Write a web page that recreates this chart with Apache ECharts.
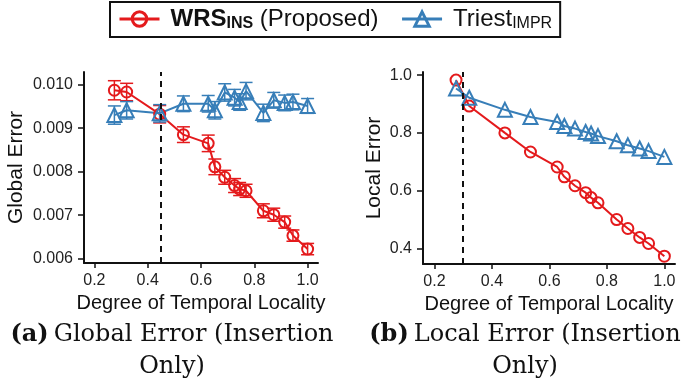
<!DOCTYPE html>
<html>
<head>
<meta charset="utf-8">
<script src="https://cdn.jsdelivr.net/npm/echarts@6/dist/echarts.min.js"></script>
<style>html,body{margin:0;padding:0;background:#fff}#c{width:685px;height:385px}</style>
</head>
<body>
<div id="c"></div>
<script>
// ---- data ----
const locality = [0.275, 0.321, 0.445, 0.534, 0.627, 0.652, 0.689, 0.726, 0.745, 0.769, 0.834, 0.873, 0.914, 0.945, 1.0];
const globalWRS = [0.00987, 0.00983, 0.00932, 0.00885, 0.00865, 0.00811, 0.00787, 0.00768, 0.0076, 0.00756, 0.0071, 0.00701, 0.00684, 0.00653, 0.00622];
const globalWRSErr = [0.00022, 0.0002, 0.0002, 0.00018, 0.00019, 0.00018, 0.00016, 0.00016, 0.00015, 0.00015, 0.00016, 0.00015, 0.00014, 0.00013, 0.00013];
const globalTriest = [0.0093, 0.00941, 0.00934, 0.00956, 0.00956, 0.00941, 0.00982, 0.0097, 0.0096, 0.00985, 0.00935, 0.00964, 0.00958, 0.0096, 0.00951];
const globalTriestErr = [0.00021, 0.0002, 0.0002, 0.00018, 0.00019, 0.0002, 0.0002, 0.00019, 0.00019, 0.0002, 0.0002, 0.00018, 0.00018, 0.00018, 0.00017];
const localWRS = [0.983, 0.893, 0.8, 0.734, 0.682, 0.648, 0.617, 0.593, 0.576, 0.558, 0.5, 0.469, 0.438, 0.417, 0.373];
const localTriest = [0.954, 0.922, 0.88, 0.855, 0.838, 0.824, 0.815, 0.803, 0.798, 0.789, 0.771, 0.757, 0.746, 0.737, 0.717];
const thresholdGlobal = 0.445;
const thresholdLocal = 0.3;
const xTicks = [0.2, 0.4, 0.6, 0.8, 1.0];
const globalTicks = [0.006, 0.007, 0.008, 0.009, 0.010];
const localTicks = [0.4, 0.6, 0.8, 1.0];
const nameWRS = 'WRS_INS (Proposed)';
const nameTriest = 'Triest_IMPR';

// ---- style ----
const RED = '#E41A1C', BLUE = '#377EB8';
const FONT = 'Liberation Sans';
const SERIF = 'DejaVu Serif';

const chart = echarts.init(document.getElementById('c'), null, {renderer: 'canvas'});

function xAxisCfg(gi, min, max) {
  return {
    type: 'value', gridIndex: gi, min: min, max: max,
    name: 'Degree of Temporal Locality', nameLocation: 'middle', nameGap: 30,
    nameTextStyle: {fontFamily: FONT, fontSize: 20, color: '#111'},
    axisLine: {show: true, lineStyle: {color: '#111', width: 2}},
    axisTick: {show: true, length: 5, lineStyle: {color: '#111', width: 1.5}, customValues: xTicks},
    axisLabel: {fontFamily: FONT, fontSize: 16, color: '#222', margin: 10, customValues: xTicks,
      formatter: v => v.toFixed(1)},
    splitLine: {show: false}
  };
}
function yAxisCfg(gi, min, max, ticks, digits, name, gap) {
  return {
    type: 'value', gridIndex: gi, min: min, max: max,
    name: name, nameLocation: 'middle', nameGap: gap, nameRotate: 90,
    nameTextStyle: {fontFamily: FONT, fontSize: 21, color: '#111'},
    axisLine: {show: true, lineStyle: {color: '#111', width: 2}},
    axisTick: {show: true, length: 6, lineStyle: {color: '#111', width: 1.5}, customValues: ticks},
    axisLabel: {fontFamily: FONT, fontSize: 16, color: '#222', margin: 11, customValues: ticks,
      formatter: v => v.toFixed(digits)},
    splitLine: {show: false}
  };
}

function lineSeries(name, xi, yi, values, color, symbol, size) {
  return {
    name: name, type: 'line', xAxisIndex: xi, yAxisIndex: yi,
    data: locality.map((x, i) => [x, values[i]]),
    symbol: symbol, symbolSize: size,
    lineStyle: {color: color, width: 2},
    itemStyle: {color: 'rgba(255,255,255,0)', borderColor: color, borderWidth: 2},
    emphasis: {disabled: true},
    animation: false, z: 3
  };
}

function errSeries(name, values, errs, color) {
  return {
    name: name + ' error', type: 'custom', xAxisIndex: 0, yAxisIndex: 0,
    data: locality.map((x, i) => [x, values[i], errs[i]]),
    renderItem: function (params, api) {
      const x = api.value(0), y = api.value(1), e = api.value(2);
      const hi = api.coord([x, y + e]);
      const lo = api.coord([x, y - e]);
      const hw = 6.5;
      const st = {stroke: color, lineWidth: 1.5};
      return {
        type: 'group', children: [
          {type: 'line', shape: {x1: hi[0], y1: hi[1], x2: lo[0], y2: lo[1]}, style: st},
          {type: 'line', shape: {x1: hi[0] - hw, y1: hi[1], x2: hi[0] + hw, y2: hi[1]}, style: st},
          {type: 'line', shape: {x1: lo[0] - hw, y1: lo[1], x2: lo[0] + hw, y2: lo[1]}, style: st}
        ]
      };
    },
    animation: false, z: 2, silent: true
  };
}

const dashed = (v) => ({
  silent: true, symbol: 'none', animation: false,
  label: {show: false},
  lineStyle: {color: '#111', type: [6, 5], width: 2},
  data: [{xAxis: v}]
});

const s0 = lineSeries(nameWRS, 0, 0, globalWRS, RED, 'circle', 11);
s0.markLine = dashed(thresholdGlobal);
const s2 = lineSeries(nameWRS, 1, 1, localWRS, RED, 'circle', 11);
s2.markLine = dashed(thresholdLocal);

const capRich = {
  b: {fontFamily: SERIF, fontSize: 24, fontWeight: 'bold', color: '#111', lineHeight: 32},
  n: {fontFamily: SERIF, fontSize: 24, fontWeight: 'normal', color: '#111', lineHeight: 32}
};

const option = {
  backgroundColor: '#fff',
  animation: false,
  grid: [
    {left: 84, top: 72, width: 234, height: 191},
    {left: 423, top: 72, width: 252, height: 192}
  ],
  xAxis: [xAxisCfg(0, 0.161, 1.039), xAxisCfg(1, 0.16, 1.037)],
  yAxis: [
    yAxisCfg(0, 0.0059, 0.01029, globalTicks, 3, 'Global Error', 57),
    yAxisCfg(1, 0.346, 1.011, localTicks, 1, 'Local Error', 38)
  ],
  legend: {
    data: [nameWRS, nameTriest],
    left: 110, top: 2,
    orient: 'horizontal',
    borderColor: '#111', borderWidth: 2, borderRadius: 0,
    padding: [5, 8, 5, 8],
    itemWidth: 40, itemHeight: 18, itemGap: 22,
    selectedMode: false,
    lineStyle: {width: 3},
    itemStyle: {borderWidth: 3},
    formatter: function (n) {
      return n === nameWRS ? '{g| }{b|WRS}{bs|INS}{n| (Proposed)}' : '{g| }{n|Triest}{s|IMPR}';
    },
    textStyle: {
      fontFamily: FONT, fontSize: 24, color: '#111',
      rich: {
        g: {width: 6, fontSize: 10},
        b: {fontFamily: FONT, fontSize: 24, fontWeight: 'bold', color: '#111', lineHeight: 26},
        bs: {fontFamily: FONT, fontSize: 16, fontWeight: 'bold', color: '#111', lineHeight: 20, verticalAlign: 'bottom'},
        n: {fontFamily: FONT, fontSize: 24, color: '#111', lineHeight: 26},
        s: {fontFamily: FONT, fontSize: 16, color: '#111', lineHeight: 20, verticalAlign: 'bottom'}
      }
    }
  },
  title: [
    {
      text: '{b|(a)} {n|Global Error (Insertion}\n{n|Only)}',
      left: 167, top: 314, textAlign: 'center',
      textStyle: {fontWeight: 'normal', rich: capRich}
    },
    {
      text: '{b|(b)} {n|Local Error (Insertion}\n{n|Only)}',
      left: 520, top: 314, textAlign: 'center',
      textStyle: {fontWeight: 'normal', rich: capRich}
    }
  ],
  series: [
    s0,
    lineSeries(nameTriest, 0, 0, globalTriest, BLUE, 'triangle', 14),
    s2,
    lineSeries(nameTriest, 1, 1, localTriest, BLUE, 'triangle', 14),
    errSeries(nameWRS, globalWRS, globalWRSErr, RED),
    errSeries(nameTriest, globalTriest, globalTriestErr, BLUE)
  ]
};
chart.setOption(option);
</script>
</body>
</html>
